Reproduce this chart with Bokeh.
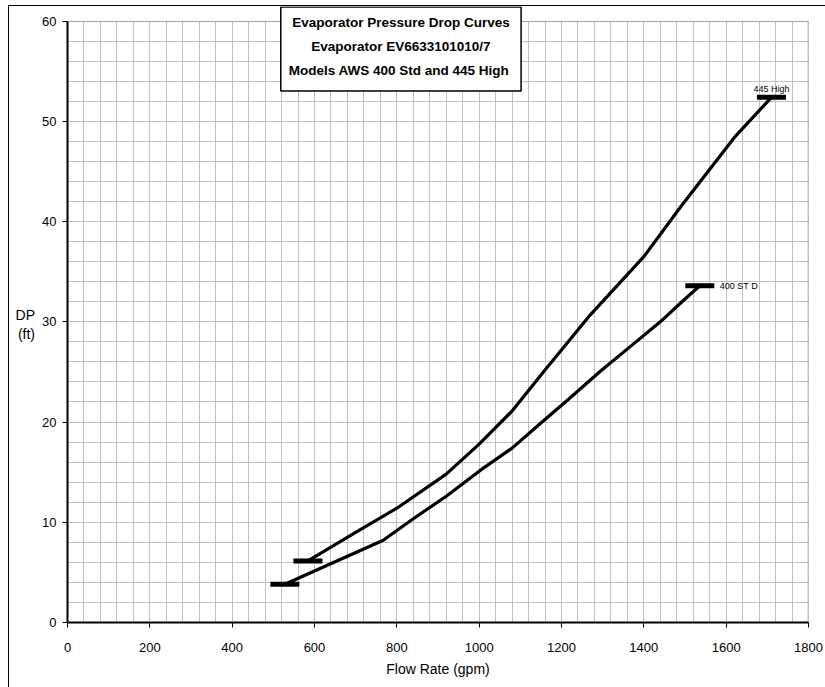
from bokeh.plotting import figure
from bokeh.models import Range1d, SingleIntervalTicker, Label, BoxAnnotation, ColumnDataSource
from bokeh.embed import file_html
from bokeh.resources import INLINE

# Flow rate (gpm) vs pressure drop (ft) for the two evaporator models
flow_445 = [584, 700, 800, 920, 1000, 1080, 1160, 1270, 1400, 1490, 1620, 1710]
dp_445 = [6.14, 9.0, 11.4, 14.8, 17.8, 21.1, 25.2, 30.7, 36.5, 41.5, 48.4, 52.4]

flow_400 = [528, 767, 840, 920, 1000, 1080, 1150, 1215, 1295, 1375, 1440, 1490, 1536]
dp_400 = [3.82, 8.2, 10.35, 12.6, 15.1, 17.4, 19.9, 22.2, 25.1, 27.8, 30.0, 31.9, 33.6]

name_445 = "445 High"
name_400 = "400 ST D"

title_lines = ["Evaporator Pressure Drop Curves",
               "Evaporator EV6633101010/7",
               "Models AWS  400 Std and 445 High"]

X_MAX = 1800
Y_MAX = 60
# the frame reaches a little above the plot area so the title box can overlap it
Y_TOP = 61.46

FONT = "Liberation Sans"

p = figure(width=825, height=687, x_range=Range1d(0, X_MAX), y_range=Range1d(0, Y_TOP),
           output_backend="svg", toolbar_location=None,
           min_border_left=67, min_border_right=17, min_border_top=6, min_border_bottom=65)
p.background_fill_color = "white"
p.border_fill_color = None
p.outline_line_color = None
# outer chart border, painted behind the transparent margins
p.styles = {
    "background": ("linear-gradient(#000, #000) 8px 5px / 1px 100% no-repeat, "
                   "linear-gradient(#000, #000) 8px 5px / 100% 1px no-repeat, white"),
}

p.xaxis.ticker = SingleIntervalTicker(interval=200, num_minor_ticks=5)
p.yaxis.ticker = SingleIntervalTicker(interval=10, num_minor_ticks=5)
p.yaxis.bounds = (0, Y_MAX)

for ax in (p.xaxis, p.yaxis):
    ax.axis_line_color = "black"
    ax.axis_line_width = 2
    ax.major_tick_line_color = "black"
    ax.major_tick_out = 5
    ax.major_tick_in = 0
    ax.minor_tick_line_color = None
    ax.major_label_text_font = FONT
    ax.major_label_text_font_size = "13px"
    ax.major_label_text_color = "black"

p.xaxis.major_label_standoff = 15
p.yaxis.major_label_standoff = 6
p.xaxis.axis_label = "Flow Rate (gpm)"
p.xaxis.axis_label_text_font = FONT
p.xaxis.axis_label_text_font_size = "14px"
p.xaxis.axis_label_text_font_style = "normal"
p.xaxis.axis_label_text_color = "black"
p.xaxis.axis_label_standoff = 6

# leading blank line drops "DP" level with the 30 tick
p.yaxis.axis_label = "\nDP\n(ft)"
p.yaxis.axis_label_orientation = "horizontal"
p.yaxis.axis_label_text_font = FONT
p.yaxis.axis_label_text_font_size = "14px"
p.yaxis.axis_label_text_font_style = "normal"
p.yaxis.axis_label_text_color = "black"
p.yaxis.axis_label_standoff = 4

for g in (p.xgrid, p.ygrid):
    g.grid_line_color = "#c0c0c0"
    g.grid_line_width = 1
    g.minor_grid_line_color = "#c0c0c0"
    g.minor_grid_line_width = 1

# blank strip above the plot area
p.add_layout(BoxAnnotation(bottom=Y_MAX, fill_color="white", fill_alpha=1, line_color=None))

# plot-area border on the top and right sides
p.line([0, X_MAX, X_MAX], [Y_MAX, Y_MAX, 0], line_color="#808080", line_width=1.5)

# curves
p.line(flow_445, dp_445, line_color="black", line_width=3.2)
p.line(flow_400, dp_400, line_color="black", line_width=3.2)

# dash markers at both ends of each curve
ends = ColumnDataSource(dict(
    x=[flow_445[0], flow_445[-1], flow_400[0], flow_400[-1]],
    y=[dp_445[0], dp_445[-1], dp_400[0], dp_400[-1]],
))
p.rect("x", "y", width=29, height=5, width_units="screen", height_units="screen",
       source=ends, fill_color="black", line_color=None)

# series labels
p.add_layout(Label(x=flow_445[-1], y=dp_445[-1], text=name_445, text_align="center",
                   text_baseline="bottom", y_offset=3, text_font=FONT,
                   text_font_size="9px", text_color="black"))
p.add_layout(Label(x=flow_400[-1], y=dp_400[-1], text=name_400, text_align="left",
                   text_baseline="middle", x_offset=20, text_font=FONT,
                   text_font_size="9px", text_color="black"))

# title box
p.add_layout(Label(x=810, y=61.4, text="\n".join(title_lines), text_align="center",
                   text_baseline="top", text_font=FONT, text_font_size="13.5px",
                   text_font_style="bold", text_line_height=1.6, text_color="black",
                   background_fill_color="white", border_line_color="black",
                   border_line_width=1.5, padding=dict(left=8, right=8, top=8, bottom=13),
                   level="overlay"))

open("out.html", "w").write(file_html(p, INLINE))
